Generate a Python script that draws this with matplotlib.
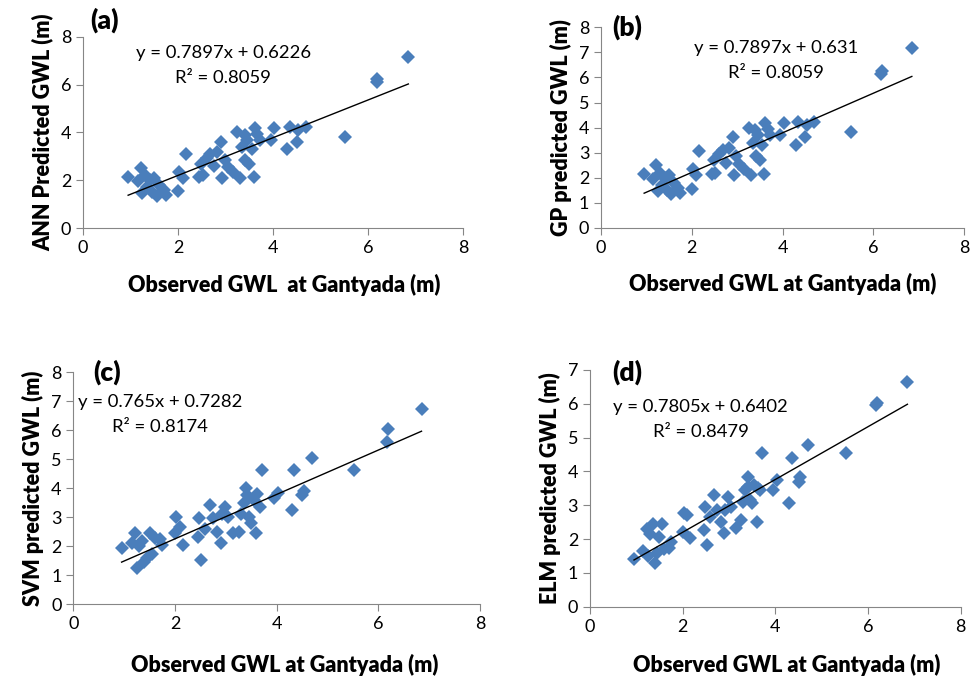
import matplotlib
matplotlib.use("Agg")
import matplotlib.pyplot as plt

plt.rcParams['font.family'] = ['Lato', 'DejaVu Sans']

# observed GWL at Gantyada (m), shared by all four panels
observed = [0.95, 1.15, 1.22, 1.25, 1.30, 1.35, 1.40, 1.45, 1.50, 1.55, 1.60, 1.70, 1.75,
            2.00, 2.03, 2.10, 2.16, 2.45, 2.48, 2.52, 2.60, 2.68, 2.75, 2.82, 2.90, 2.92,
            2.98, 3.05, 3.15, 3.25, 3.30, 3.35, 3.40, 3.42, 3.45, 3.50, 3.55, 3.60, 3.62,
            3.67, 3.72, 3.95, 4.03, 4.30, 4.35, 4.50, 4.53, 4.70, 5.52, 6.18, 6.20, 6.85]

ann_pred = [2.15, 1.95, 2.50, 1.45, 2.20, 1.70, 2.00, 1.50, 2.10, 1.32, 1.80, 1.60, 1.40,
            1.55, 2.35, 2.10, 3.08, 2.15, 2.70, 2.20, 2.95, 3.10, 2.60, 3.20, 3.62, 2.10,
            2.85, 2.55, 2.35, 4.00, 2.10, 3.40, 3.90, 2.85, 3.70, 2.70, 3.30, 2.15, 4.20,
            3.95, 3.69, 3.70, 4.17, 3.30, 4.24, 3.62, 4.10, 4.24, 3.82, 6.12, 6.26, 7.16]

gp_pred = [2.15, 1.95, 2.50, 1.45, 2.20, 1.70, 2.00, 1.50, 2.10, 1.35, 1.80, 1.60, 1.40,
           1.55, 2.35, 2.10, 3.08, 2.15, 2.70, 2.20, 2.95, 3.10, 2.60, 3.20, 3.62, 2.10,
           2.85, 2.55, 2.35, 4.00, 2.10, 3.40, 3.90, 2.85, 3.70, 2.70, 3.30, 2.15, 4.20,
           3.95, 3.69, 3.70, 4.17, 3.30, 4.24, 3.62, 4.10, 4.24, 3.82, 6.12, 6.26, 7.16]

svm_pred = [1.93, 2.10, 2.45, 1.25, 2.00, 2.20, 1.45, 1.60, 2.45, 1.75, 2.30, 2.25, 2.05,
            2.45, 3.02, 2.68, 2.05, 2.33, 2.97, 1.53, 2.60, 3.43, 2.97, 2.50, 2.10, 3.10,
            3.37, 3.02, 2.45, 2.50, 3.10, 3.48, 4.00, 3.77, 3.02, 2.79, 3.60, 2.45, 3.80,
            3.37, 4.63, 3.66, 3.83, 3.25, 4.63, 3.77, 3.89, 5.03, 4.63, 5.61, 6.03, 6.72]

elm_pred = [1.40, 1.65, 2.30, 1.50, 2.15, 2.45, 1.28, 1.60, 2.05, 2.45, 1.70, 1.75, 1.90,
            2.20, 2.76, 2.71, 2.02, 2.27, 2.96, 1.82, 2.65, 3.30, 2.86, 2.51, 2.17, 2.86,
            3.25, 2.95, 2.32, 2.56, 3.10, 3.45, 3.85, 3.55, 3.16, 3.06, 3.60, 2.51, 3.50,
            3.45, 4.54, 3.45, 3.75, 3.06, 4.39, 3.70, 3.85, 4.78, 4.54, 5.95, 6.02, 6.65]

# printed linear trendlines
slopes = [0.7897, 0.7897, 0.765, 0.7805]
intercepts = [0.6226, 0.631, 0.7282, 0.6402]
r2_values = [0.8059, 0.8059, 0.8174, 0.8479]

panel_tags = ['(a)', '(b)', '(c)', '(d)']
ylabels = ['ANN Predicted GWL (m)', 'GP predicted GWL (m)',
           'SVM predicted GWL (m)', 'ELM predicted GWL (m)']
xlabels = ['Observed GWL  at Gantyada (m)', 'Observed GWL at Gantyada (m)',
           'Observed GWL at Gantyada (m)', 'Observed GWL at Gantyada (m)']
eq_texts = ['y = 0.7897x + 0.6226', 'y = 0.7897x + 0.631',
            'y = 0.765x + 0.7282', 'y = 0.7805x + 0.6402']
predictions = [ann_pred, gp_pred, svm_pred, elm_pred]

y_tops = [8, 8, 8, 7]
y_steps = [2, 1, 1, 1]

# layout (figure fractions) and text placement
rects = [[0.0855, 0.6647, 0.3913, 0.2809],
         [0.6190, 0.6650, 0.3738, 0.2948],
         [0.0755, 0.1113, 0.4188, 0.3412],
         [0.6076, 0.1078, 0.3818, 0.3481]]
eq_pos = [(2.95, 7.33, 6.29), (3.86, 7.17, 6.18), (1.70, 6.99, 6.11), (2.39, 5.92, 5.18)]
tag_pos = [(0.02, 1.09), (0.03, 1.0), (0.05, 1.0), (0.06, 0.99)]
xlabel_x = [0.53, 0.5, 0.52, 0.531]
xlabel_y = [-0.3, -0.28, -0.26, -0.245]

fig = plt.figure(figsize=(9.71, 6.8), dpi=100)
blue = '#4a7ebb'
grey = '#868686'

for i in range(4):
    ax = fig.add_axes(rects[i])
    ax.plot(observed, predictions[i], linestyle='none', marker='D', markersize=7.5,
            color=blue, markeredgewidth=0)
    x0, x1 = min(observed), max(observed)
    ax.plot([x0, x1], [slopes[i] * x0 + intercepts[i], slopes[i] * x1 + intercepts[i]],
            color='black', linewidth=1.0)

    ax.set_xlim(0, 8)
    ax.set_ylim(0, y_tops[i])
    ax.set_xticks(range(0, 9, 2))
    ax.set_yticks(range(0, y_tops[i] + 1, y_steps[i]))
    for s in ['top', 'right']:
        ax.spines[s].set_visible(False)
    for s in ['left', 'bottom']:
        ax.spines[s].set_color(grey)
    ax.tick_params(colors=grey, labelcolor='black', labelsize=13, length=5, direction='out')

    ax.set_xlabel(xlabels[i], fontsize=15.5, fontweight='heavy', va='center')
    ax.xaxis.set_label_coords(xlabel_x[i], xlabel_y[i])
    ax.set_ylabel(ylabels[i], fontsize=15.5, fontweight='heavy', labelpad=5)

    ex, ey, ry = eq_pos[i]
    ax.text(ex, ey, eq_texts[i], fontsize=13.3, ha='center', va='center')
    ax.text(ex, ry, 'R² = %.4f' % r2_values[i], fontsize=13.3, ha='center', va='center')
    ax.text(tag_pos[i][0], tag_pos[i][1], panel_tags[i], transform=ax.transAxes,
            fontsize=19, fontweight='heavy', ha='left', va='center')

fig.savefig('out.png', dpi=100)
